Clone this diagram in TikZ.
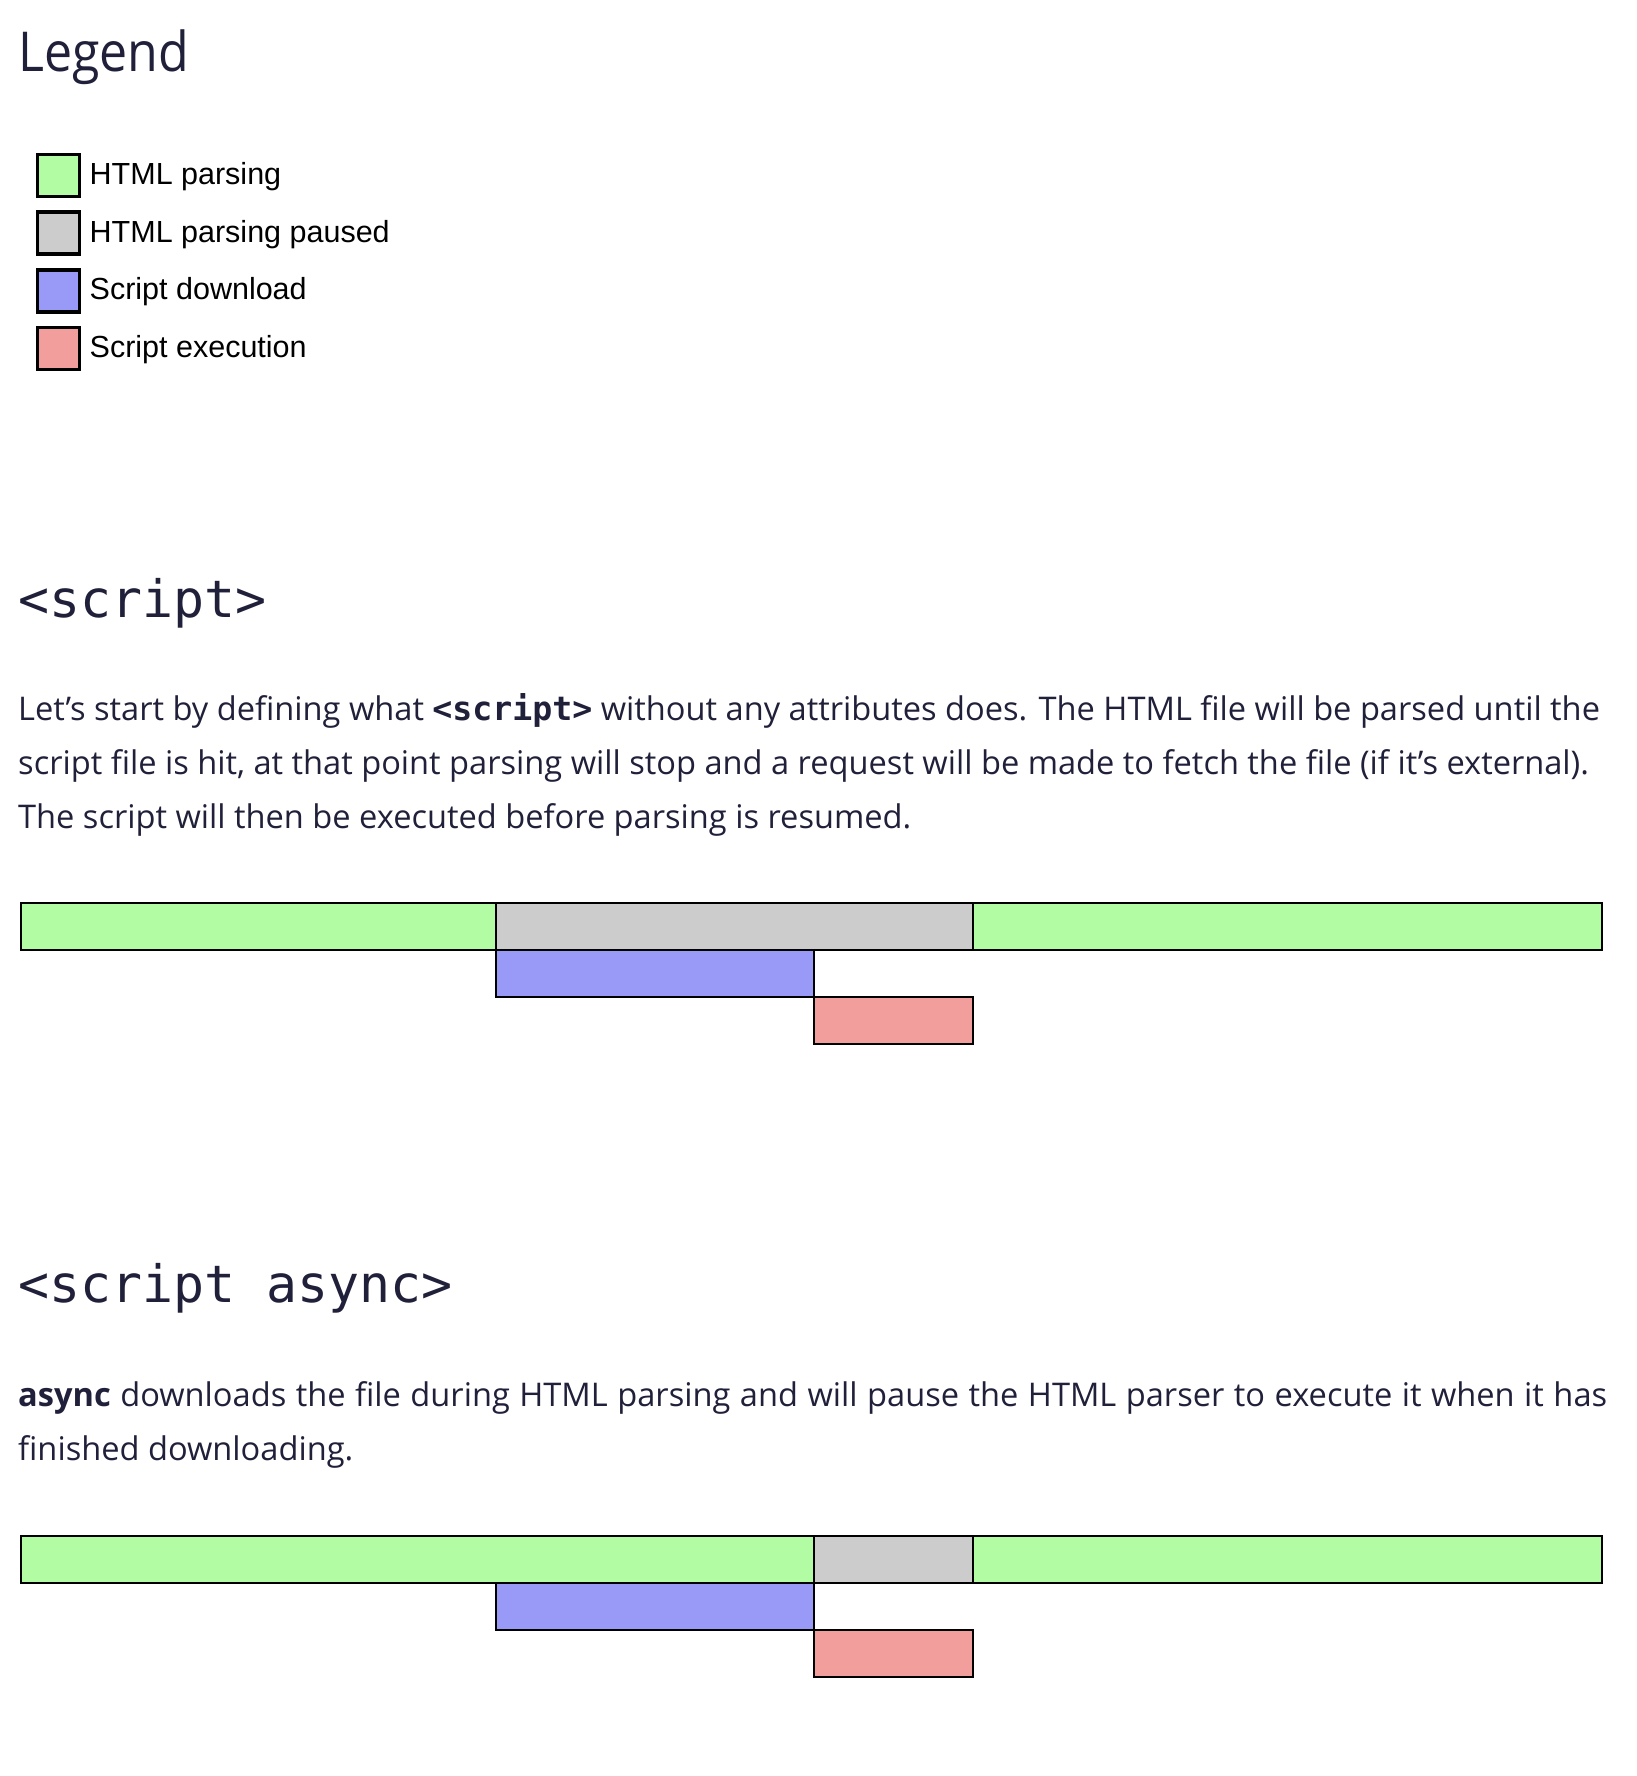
\documentclass[tikz,border=0pt]{standalone}
\usepackage{fontspec}
\setmainfont{Open Sans}
\newfontfamily\titlefont[FakeStretch=0.91]{Open Sans}
\newfontfamily\keyfont{Liberation Sans}
\newfontfamily\codefont{DejaVu Sans Mono}
\usetikzlibrary{positioning}

\definecolor{parsecol}{RGB}{178,252,163}
\definecolor{pausecol}{RGB}{204,204,204}
\definecolor{downcol}{RGB}{153,153,247}
\definecolor{execcol}{RGB}{242,158,156}
\definecolor{inkcol}{RGB}{32,32,58}

\newcommand{\inlinecode}[1]{{\codefont\bfseries\fontsize{33.2}{40}\selectfont #1}}

\tikzset{
  bar/.style={rectangle, draw=black, line width=2.4pt, inner sep=0pt, outer sep=0pt, minimum height=47},
  keybox/.style={rectangle, draw=black, line width=3.5pt, inner sep=0pt, outer sep=0pt, minimum size=42},
  keytext/.style={anchor=west, inner sep=0pt, font=\keyfont\fontsize{30.5}{34}\selectfont, text height=24pt, text depth=6pt},
  bodytext/.style={anchor=base west, inner sep=0pt, text=inkcol, font=\fontsize{32.6}{40}\selectfont},
  headtext/.style={anchor=base west, inner sep=0pt, text=inkcol, font=\codefont\fontsize{51.5}{60}\selectfont},
}

\begin{document}
\begin{tikzpicture}[x=1pt, y=-1pt, node distance=15.7pt]
\useasboundingbox (0,0) rectangle (1636,1776);

% legend
\node[anchor=base west, inner sep=0pt, text=inkcol, font=\titlefont\fontsize{55}{60}\selectfont] (legend) at (18,72) {Legend};
\node[keybox, fill=parsecol] (k1) at (58.5,175.5) {};
\node[keybox, fill=pausecol, below=of k1] (k2) {};
\node[keybox, fill=downcol, below=of k2] (k3) {};
\node[keybox, fill=execcol, below=of k3] (k4) {};
\node[keytext, right=10pt of k1] (t1) {HTML parsing};
\node[keytext, right=10pt of k2] (t2) {HTML parsing paused};
\node[keytext, right=10pt of k3] (t3) {Script download};
\node[keytext, right=10pt of k4] (t4) {Script execution};

% <script>
\node[headtext] (h1) at (18,617) {<script>};
\node[bodytext] (p1a) at (18,720) {Let’s start by defining what \inlinecode{<script>} without any attributes does. The HTML file will be parsed until the};
\node[bodytext] (p1b) at (18,774) {script file is hit, at that point parsing will stop and a request will be made to fetch the file (if it’s external).};
\node[bodytext] (p1c) at (18,828) {The script will then be executed before parsing is resumed.};

\node[bar, fill=parsecol, minimum width=475, anchor=north west] (s1) at (21,903) {};
\node[bar, fill=pausecol, minimum width=477, right=0pt of s1] (s2) {};
\node[bar, fill=parsecol, minimum width=629, right=0pt of s2] (s3) {};
\node[bar, fill=downcol, minimum width=318, below right=0pt and 0pt of s1.south east] (s4) {};
\node[bar, fill=execcol, minimum width=159, below right=0pt and 0pt of s4.south east] (s5) {};

% <script async>
\node[headtext] (h2) at (18,1302) {<script async>};
\node[bodytext] (p2a) at (18,1406) {\spaceskip=9.5pt\relax\textbf{async} downloads the file during HTML parsing and will pause the HTML parser to execute it when it has};
\node[bodytext] (p2b) at (18,1460) {finished downloading.};

\node[bar, fill=parsecol, minimum width=793, anchor=north west] (a1) at (21,1536) {};
\node[bar, fill=pausecol, minimum width=159, right=0pt of a1] (a2) {};
\node[bar, fill=parsecol, minimum width=629, right=0pt of a2] (a3) {};
\node[bar, fill=downcol, minimum width=318, below left=0pt and 0pt of a1.south east] (a4) {};
\node[bar, fill=execcol, minimum width=159, below right=0pt and 0pt of a4.south east] (a5) {};
\end{tikzpicture}
\end{document}
